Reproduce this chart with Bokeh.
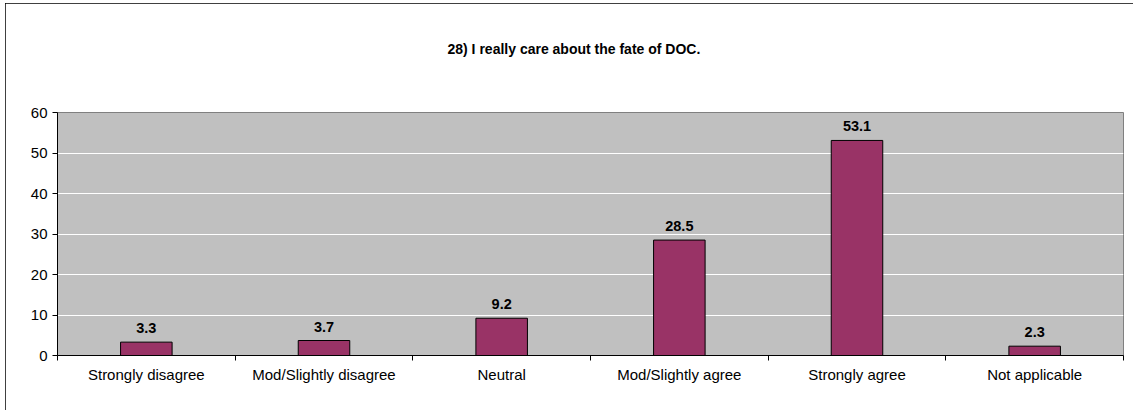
from bokeh.plotting import figure
from bokeh.models import Range1d, FixedTicker, ColumnDataSource, LabelSet, Title
from bokeh.core.properties import value
from bokeh.embed import file_html
from bokeh.resources import INLINE

categories = ["Strongly disagree", "Mod/Slightly disagree", "Neutral",
              "Mod/Slightly agree", "Strongly agree", "Not applicable"]
values = [3.3, 3.7, 9.2, 28.5, 53.1, 2.3]
value_labels = ["3.3", "3.7", "9.2", "28.5", "53.1", "2.3"]
y_ticks = [0, 10, 20, 30, 40, 50, 60]
title_text = "28) I really care about the fate of DOC."

FONT = "Liberation Sans"

centers = [i + 0.5 for i in range(len(categories))]
bounds = list(range(len(categories) + 1))

p = figure(width=1128, height=407, output_backend="svg", toolbar_location=None,
           x_range=Range1d(0, len(categories)), y_range=Range1d(0, 60),
           min_border_left=52, min_border_right=10, min_border_top=109,
           min_border_bottom=55, background_fill_color="#C0C0C0",
           border_fill_color="white")
p.styles = {"outline": "1px solid #000000", "outline-offset": "-1px",
            "margin-left": "5px", "margin-top": "3px"}

p.outline_line_color = "#808080"
p.outline_line_width = 1

src = ColumnDataSource(dict(x=centers, top=values, lab=value_labels))
p.vbar(x="x", top="top", width=0.29, bottom=0, source=src,
       fill_color="#993366", line_color="#000000", line_width=1)

labels = LabelSet(x="x", y="top", text="lab", source=src, y_offset=9,
                  text_align="center", text_baseline="alphabetic",
                  text_font=value(FONT), text_font_size=value("14.5px"),
                  text_font_style=value("bold"), text_color=value("#000000"))
p.add_layout(labels)

# x axis
xa = p.xaxis[0]
xa.ticker = FixedTicker(ticks=centers, minor_ticks=bounds)
xa.major_label_overrides = {c: lab for c, lab in zip(centers, categories)}
xa.major_tick_in = 0
xa.major_tick_out = 0
xa.minor_tick_in = 0
xa.minor_tick_out = 5
xa.minor_tick_line_color = "#000000"
xa.axis_line_color = "#000000"
xa.major_label_standoff = 5
xa.major_label_text_font = FONT
xa.major_label_text_font_size = "15px"
xa.major_label_text_color = "#000000"

# y axis
ya = p.yaxis[0]
ya.ticker = FixedTicker(ticks=y_ticks)
ya.major_tick_in = 0
ya.major_tick_out = 5
ya.minor_tick_out = 0
ya.minor_tick_in = 0
ya.axis_line_color = "#000000"
ya.major_tick_line_color = "#000000"
ya.major_label_standoff = 5
ya.major_label_text_font = FONT
ya.major_label_text_font_size = "15px"
ya.major_label_text_color = "#000000"

p.xgrid.grid_line_color = None
p.ygrid.grid_line_color = "#FFFFFF"
p.ygrid.grid_line_width = 1
p.ygrid.ticker = FixedTicker(ticks=y_ticks)

# spacer between plot area and title, then the title itself
spacer = Title(text=" ", standoff=32, text_font=FONT, text_font_size="14px")
p.add_layout(spacer, "above")
t = Title(text=title_text, align="left", offset=390, standoff=10,
          vertical_align="middle",
          text_font=FONT, text_font_size="14px", text_font_style="bold",
          text_color="#000000")
p.add_layout(t, "above")

open("out.html", "w").write(file_html(p, INLINE))
